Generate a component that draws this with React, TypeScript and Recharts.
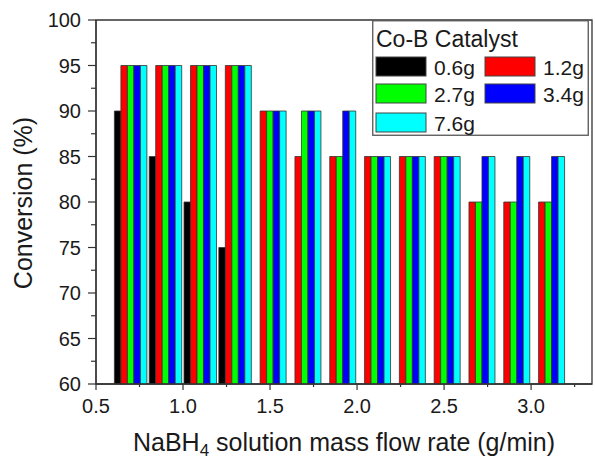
import { BarChart, Bar, XAxis, YAxis, Legend, ReferenceArea } from 'recharts';

const FONT = '"Liberation Sans", Arial, sans-serif';
const INK = '#1a1a1a';
const AXIS = '#333';

// flow rate (g/min) of each bar group
const rates = [0.7, 0.9, 1.1, 1.3, 1.5, 1.7, 1.9, 2.1, 2.3, 2.5, 2.7, 2.9, 3.1];

// conversion (%) per catalyst amount
const cat06 = [90, 85, 80, 75, null, null, null, null, null, null, null, null, null];
const cat12 = [95, 95, 95, 95, 90, 85, 85, 85, 85, 85, 80, 80, 80];
const cat27 = [95, 95, 95, 95, 90, 90, 85, 85, 85, 85, 80, 80, 80];
const cat34 = [95, 95, 95, 95, 90, 90, 90, 85, 85, 85, 85, 85, 85];
const cat76 = [95, 95, 95, 95, 90, 90, 90, 85, 85, 85, 85, 85, 85];

const xMajor = [0.5, 1.0, 1.5, 2.0, 2.5, 3.0];
const xMinor = [0.75, 1.25, 1.75, 2.25, 2.75, 3.25];
const yMajor = [60, 65, 70, 75, 80, 85, 90, 95, 100];
const yMinor = [62.5, 67.5, 72.5, 77.5, 82.5, 87.5, 92.5, 97.5];

const series = [
  { key: 'g06', name: '0.6g', color: '#000000' },
  { key: 'g12', name: '1.2g', color: '#ff0000' },
  { key: 'g27', name: '2.7g', color: '#00ff00' },
  { key: 'g34', name: '3.4g', color: '#0000ff' },
  { key: 'g76', name: '7.6g', color: '#00ffff' },
];

const data = rates.map((rate, i) => ({
  rate,
  g06: cat06[i],
  g12: cat12[i],
  g27: cat27[i],
  g34: cat34[i],
  g76: cat76[i],
}));

const XTick = (props: any) => {
  const { x, y, payload } = props;
  const major = xMajor.includes(payload.value);
  return (
    <g>
      <line x1={x} x2={x} y1={y} y2={y + (major ? 6 : 3)} stroke={AXIS} strokeWidth={1.2} />
      {major && (
        <text x={x} y={y + 29} textAnchor="middle" fontSize={20} fill={INK} fontFamily={FONT}>
          {payload.value.toFixed(1)}
        </text>
      )}
    </g>
  );
};

const YTick = (props: any) => {
  const { x, y, payload } = props;
  const major = yMajor.includes(payload.value);
  return (
    <g>
      <line x1={x} x2={x - (major ? 8 : 5)} y1={y} y2={y} stroke={AXIS} strokeWidth={1.2} />
      {major && (
        <text x={x - 15} y={y + 7} textAnchor="end" fontSize={20} fill={INK} fontFamily={FONT}>
          {payload.value}
        </text>
      )}
    </g>
  );
};

const XTitle = (props: any) => {
  const { viewBox } = props;
  const cx = viewBox.x + viewBox.width / 2;
  return (
    <text x={cx} y={viewBox.y + 67} textAnchor="middle" fontSize={25} fill={INK} fontFamily={FONT}>
      NaBH<tspan fontSize={17} dy={5}>4</tspan>
      <tspan dy={-5}> solution mass flow rate (g/min)</tspan>
    </text>
  );
};

const YTitle = (props: any) => {
  const { viewBox } = props;
  const cy = viewBox.y + viewBox.height / 2 + 1;
  return (
    <text
      x={32}
      y={cy}
      transform={`rotate(-90 32 ${cy})`}
      textAnchor="middle"
      fontSize={25}
      fill={INK}
      fontFamily={FONT}
    >
      Conversion (%)
    </text>
  );
};

const CatalystLegend = () => (
  <svg width={217} height={116} style={{ display: 'block' }}>
    <rect x={0.75} y={0.75} width={215.5} height={114.5} fill="#fff" stroke="#555" strokeWidth={1.3} />
    <text x={4} y={27} fontSize={23} fill={INK} fontFamily={FONT}>
      Co-B Catalyst
    </text>
    {series.map((s, i) => {
      const col = i % 2;
      const row = Math.floor(i / 2);
      const sx = col === 0 ? 4 : 113;
      const sy = [37, 64, 93][row];
      return (
        <g key={s.key}>
          <rect x={sx} y={sy} width={50} height={19} fill={s.color} stroke="#444" strokeWidth={1} />
          <text x={sx + 58} y={sy + 18} fontSize={21} fill={INK} fontFamily={FONT}>
            {s.name}
          </text>
        </g>
      );
    })}
  </svg>
);

export default function App() {
  return (
    <div style={{ position: 'absolute', left: 0, top: 0, width: 595, height: 459, background: '#fff' }}>
      <BarChart
        width={595}
        height={459}
        data={data}
        margin={{ top: 20, right: 3, left: 0, bottom: 0 }}
        barSize={6.5}
        barGap={0}
      >
        <XAxis
          dataKey="rate"
          type="number"
          domain={[0.5, 3.35]}
          allowDataOverflow
          ticks={[...xMajor, ...xMinor].sort((a, b) => a - b)}
          interval={0}
          tick={<XTick />}
          tickLine={false}
          tickSize={0}
          tickMargin={0}
          height={75}
          axisLine={{ stroke: AXIS, strokeWidth: 1.3 }}
          label={<XTitle />}
        />
        <YAxis
          type="number"
          domain={[60, 100]}
          allowDataOverflow
          ticks={[...yMajor, ...yMinor].sort((a, b) => a - b)}
          interval={0}
          tick={<YTick />}
          tickLine={false}
          tickSize={0}
          tickMargin={0}
          width={96}
          axisLine={{ stroke: AXIS, strokeWidth: 1.3 }}
          label={<YTitle />}
        />
        <ReferenceArea x1={0.5} x2={3.35} y1={60} y2={100} fill="none" stroke={AXIS} strokeWidth={1.3} />
        {series.map((s) => (
          <Bar
            key={s.key}
            dataKey={s.key}
            name={s.name}
            fill={s.color}
            stroke="#333"
            strokeWidth={0.8}
            isAnimationActive={false}
          />
        ))}
        <Legend
          layout="vertical"
          align="center"
          verticalAlign="middle"
          content={<CatalystLegend />}
          wrapperStyle={{ position: 'absolute', left: 372, top: 20, width: 217, height: 116 }}
        />
      </BarChart>
    </div>
  );
}
